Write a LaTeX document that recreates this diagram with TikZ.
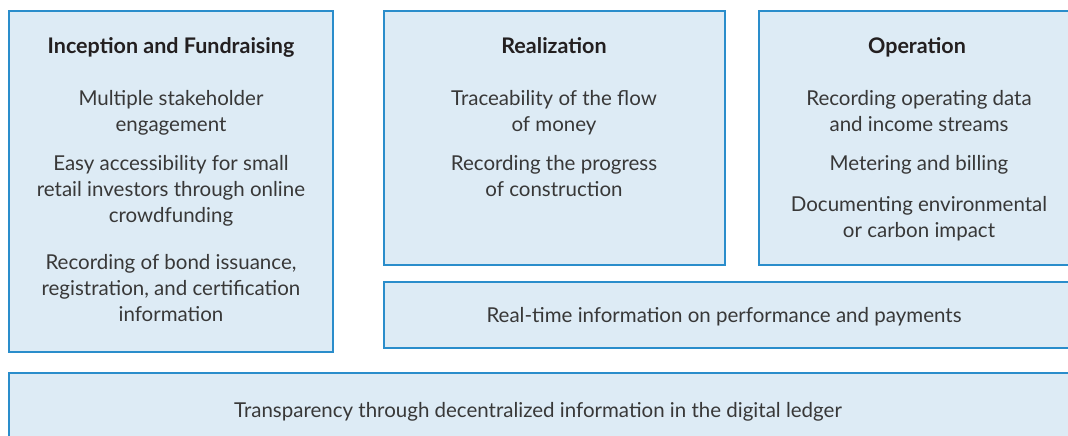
\documentclass[tikz,border=0pt]{standalone}
\usepackage{fontspec}
\setmainfont{Lato}
\definecolor{panelfill}{HTML}{DDEBF5}
\definecolor{panelline}{HTML}{2A8DCB}
\definecolor{textgrey}{HTML}{383838}
\definecolor{headblack}{HTML}{231F20}
\begin{document}
\begin{tikzpicture}[x=1pt,y=-1pt,
  panel/.style={fill=panelfill,draw=panelline,line width=1.2pt},
  head/.style={font=\fontsize{21.5}{26}\selectfont\bfseries,text=headblack,inner sep=0pt,anchor=base},
  item/.style={font=\fontsize{20.5}{26}\selectfont,text=textgrey,inner sep=0pt,anchor=base}]
  \useasboundingbox (0,0) rectangle (1068,436);
  % panels
  \begin{scope}
    \clip (0,0) rectangle (1068,436);
    \path[panel] (9,11) rectangle (333,352);
    \path[panel] (384,11) rectangle (725,265);
    \path[panel] (759,11) rectangle (1080,265);
    \path[panel] (384,282) rectangle (1080,348);
    \path[panel] (9,373) rectangle (1080,450);
  \end{scope}
  % inception and fundraising
  \node[head] (h1) at (171,54) {Inception and Fundraising};
  \node[item] (a1a) at (171,105) {Multiple stakeholder};
  \node[item] (a1b) at (171,131) {engagement};
  \node[item] (a2a) at (171,170) {Easy accessibility for small};
  \node[item] (a2b) at (171,196) {retail investors through online};
  \node[item] (a2c) at (171,222) {crowdfunding};
  \node[item] (a3a) at (171,269) {Recording of bond issuance,};
  \node[item] (a3b) at (171,295) {registration, and certification};
  \node[item] (a3c) at (171,321) {information};
  % realization
  \node[head] (h2) at (554,54) {Realization};
  \node[item] (b1a) at (554,105) {Traceability of the flow};
  \node[item] (b1b) at (554,131) {of money};
  \node[item] (b2a) at (554,170) {Recording the progress};
  \node[item] (b2b) at (554,196) {of construction};
  % operation
  \node[head] (h3) at (917,54) {Operation};
  \node[item] (c1a) at (919,105) {Recording operating data};
  \node[item] (c1b) at (919,131) {and income streams};
  \node[item] (c2a) at (919,170) {Metering and billing};
  \node[item] (c3a) at (919,211) {Documenting environmental};
  \node[item] (c3b) at (919,237) {or carbon impact};
  % spanning rows
  \node[item] (d1) at (724,322) {Real-time information on performance and payments};
  \node[item] (e1) at (538,417) {Transparency through decentralized information in the digital ledger};
\end{tikzpicture}
\end{document}
